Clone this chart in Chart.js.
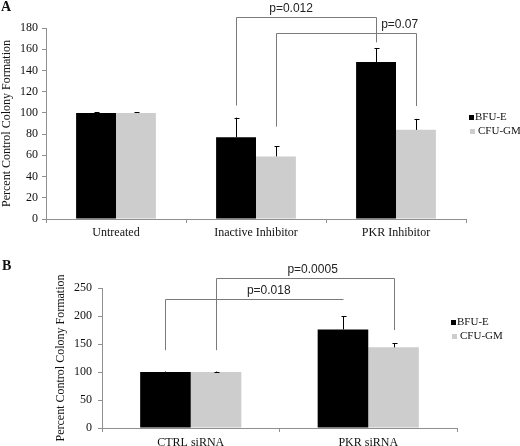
<!DOCTYPE html>
<html>
<head>
<meta charset="utf-8">
<script src="https://cdn.jsdelivr.net/npm/chart.js@4.4.1/dist/chart.umd.min.js"></script>
<style>
  body { margin: 0; background: #fff; }
  #wrap { position: relative; width: 520px; height: 446px; }
  canvas { position: absolute; left: 0; }
  .panel { position: absolute; font-family: 'Liberation Serif', serif; font-weight: bold; font-size: 14px; color: #111; }
</style>
</head>
<body>
<div id="wrap">
  <canvas id="chartA" width="520" height="240" style="top:0"></canvas>
  <canvas id="chartB" width="520" height="206" style="top:240px"></canvas>
  <div class="panel" style="left:1px; top:-1px">A</div>
  <div class="panel" style="left:2px; top:258px">B</div>
</div>
<script>
// panel A
const categoriesA = ['Untreated', 'Inactive Inhibitor', 'PKR Inhibitor'];
const bfuA = [100, 77, 148];
const cfuA = [100, 59, 84];
const bfuErrA = [0.5, 18.5, 13];
const cfuErrA = [0.5, 9.5, 10.3];
const yTicksA = { max: 180, step: 20 };
// brackets: [category, dataset] at both ends, heights in data units
const bracketsA = [
  { label: 'p=0.012', from: [1, 0], to: [2, 0], top: 190, leftEnd: 107, rightEnd: 166.5, at: 0.39 },
  { label: 'p=0.07', from: [1, 1], to: [2, 1], top: 175.5, leftEnd: 87, rightEnd: 106.5, at: 0.88 }
];

// panel B
const categoriesB = ['CTRL siRNA', 'PKR siRNA'];
const bfuB = [100, 176];
const cfuB = [100, 144];
const bfuErrB = [0.8, 24];
const cfuErrB = [0.8, 7];
const yTicksB = { max: 250, step: 50 };
const bracketsB = [
  { label: 'p=0.018', from: [0, 0], to: [1, 0], top: 231, leftEnd: 139, rightEnd: null, at: 0.58 },
  { label: 'p=0.0005', from: [0, 1], to: [1, 1], top: 268, leftEnd: 139, rightEnd: 175, at: 0.54 }
];

const seriesNames = ['BFU-E', 'CFU-GM'];
const seriesColors = ['#000000', '#cdcdcd'];
const axisGrey = '#8f8f8f';

Chart.defaults.font.family = "'Liberation Serif', serif";
Chart.defaults.color = '#111';

const errorBars = {
  id: 'errorBars',
  afterDatasetsDraw(chart) {
    const ctx = chart.ctx;
    const y = chart.scales.y;
    ctx.save();
    ctx.strokeStyle = '#000';
    ctx.lineWidth = 1;
    chart.data.datasets.forEach((ds, d) => {
      chart.getDatasetMeta(d).data.forEach((bar, i) => {
        const top = y.getPixelForValue(ds.data[i] + ds.errors[i]);
        const x = Math.round(bar.x) + 0.5;
        ctx.beginPath();
        ctx.moveTo(x, bar.y);
        ctx.lineTo(x, top);
        ctx.moveTo(x - 2, Math.round(top) + 0.5);
        ctx.lineTo(x + 3, Math.round(top) + 0.5);
        ctx.stroke();
      });
    });
    ctx.restore();
  }
};

const sigBrackets = {
  id: 'sigBrackets',
  afterDatasetsDraw(chart, args, opts) {
    const ctx = chart.ctx;
    const y = chart.scales.y;
    ctx.save();
    ctx.strokeStyle = '#7a7a7a';
    ctx.lineWidth = 1;
    ctx.fillStyle = '#222';
    ctx.font = "12px 'Liberation Sans', Arial, sans-serif";
    ctx.textAlign = 'center';
    ctx.textBaseline = 'bottom';
    (opts.items || []).forEach(b => {
      const x1 = Math.round(chart.getDatasetMeta(b.from[1]).data[b.from[0]].x) + 0.5;
      const x2 = Math.round(chart.getDatasetMeta(b.to[1]).data[b.to[0]].x) + 0.5;
      const yt = Math.round(y.getPixelForValue(b.top)) + 0.5;
      ctx.beginPath();
      ctx.moveTo(x1, y.getPixelForValue(b.leftEnd));
      ctx.lineTo(x1, yt);
      ctx.lineTo(x2, yt);
      if (b.rightEnd !== null) ctx.lineTo(x2, y.getPixelForValue(b.rightEnd));
      ctx.stroke();
      ctx.fillText(b.label, x1 + (x2 - x1) * b.at, yt - 3);
    });
    ctx.restore();
  }
};

const sideLegend = {
  id: 'sideLegend',
  afterDraw(chart, args, opts) {
    const ctx = chart.ctx;
    ctx.save();
    ctx.font = "11px 'Liberation Serif', serif";
    ctx.textBaseline = 'middle';
    ctx.textAlign = 'left';
    chart.data.datasets.forEach((ds, d) => {
      const rowY = opts.y + d * 14;
      ctx.fillStyle = ds.backgroundColor;
      ctx.fillRect(opts.x + d, rowY - 2, 5, 5);
      ctx.fillStyle = '#111';
      ctx.fillText(ds.label, opts.x + 6 + d * 3, rowY + 0.5);
    });
    ctx.restore();
  }
};

function renderChart(id, cfg) {
  const ctx = document.getElementById(id);
  return new Chart(ctx, {
    type: 'bar',
    data: {
      labels: cfg.labels,
      datasets: [
        { label: seriesNames[0], data: cfg.bfu, errors: cfg.bfuErr, backgroundColor: seriesColors[0] },
        { label: seriesNames[1], data: cfg.cfu, errors: cfg.cfuErr, backgroundColor: seriesColors[1] }
      ].map(ds => Object.assign(ds, { categoryPercentage: 0.57, barPercentage: 1.0, borderWidth: 0 }))
    },
    options: {
      responsive: false,
      animation: false,
      layout: { padding: cfg.padding },
      plugins: {
        legend: { display: false },
        tooltip: { enabled: false },
        sigBrackets: { items: cfg.brackets },
        sideLegend: cfg.legend
      },
      scales: {
        x: {
          grid: { drawOnChartArea: false, tickLength: 4, color: axisGrey, offset: true },
          border: { color: axisGrey },
          ticks: { padding: cfg.xPad, maxRotation: 0, font: { size: 12 } },
          afterFit: s => { s.height = cfg.xHeight; }
        },
        y: {
          min: 0,
          max: cfg.ticks.max,
          grid: { drawOnChartArea: false, tickLength: 4, color: axisGrey },
          border: { color: axisGrey },
          ticks: { stepSize: cfg.ticks.step, padding: cfg.yPad, font: { size: 12 } },
          title: { display: true, text: 'Percent Control Colony Formation', font: { size: 12 }, padding: 0 },
          afterFit: s => { s.width = cfg.yWidth; }
        }
      }
    },
    plugins: [errorBars, sigBrackets, sideLegend]
  });
}

window.addEventListener('DOMContentLoaded', () => {
  renderChart('chartA', {
    labels: categoriesA, bfu: bfuA, cfu: cfuA, bfuErr: bfuErrA, cfuErr: cfuErrA,
    ticks: yTicksA, brackets: bracketsA,
    padding: { left: 0, top: 28, right: 54, bottom: 0 },
    yWidth: 46, xHeight: 21, xPad: 3, yPad: 4,
    legend: { x: 469, y: 117 }
  });
  renderChart('chartB', {
    labels: categoriesB, bfu: bfuB, cfu: cfuB, bfuErr: bfuErrB, cfuErr: cfuErrB,
    ticks: yTicksB, brackets: bracketsB,
    padding: { left: 54, top: 48, right: 63, bottom: 0 },
    yWidth: 48, xHeight: 18, xPad: 4, yPad: 6,
    legend: { x: 451, y: 82 }
  });
});
</script>
</body>
</html>
